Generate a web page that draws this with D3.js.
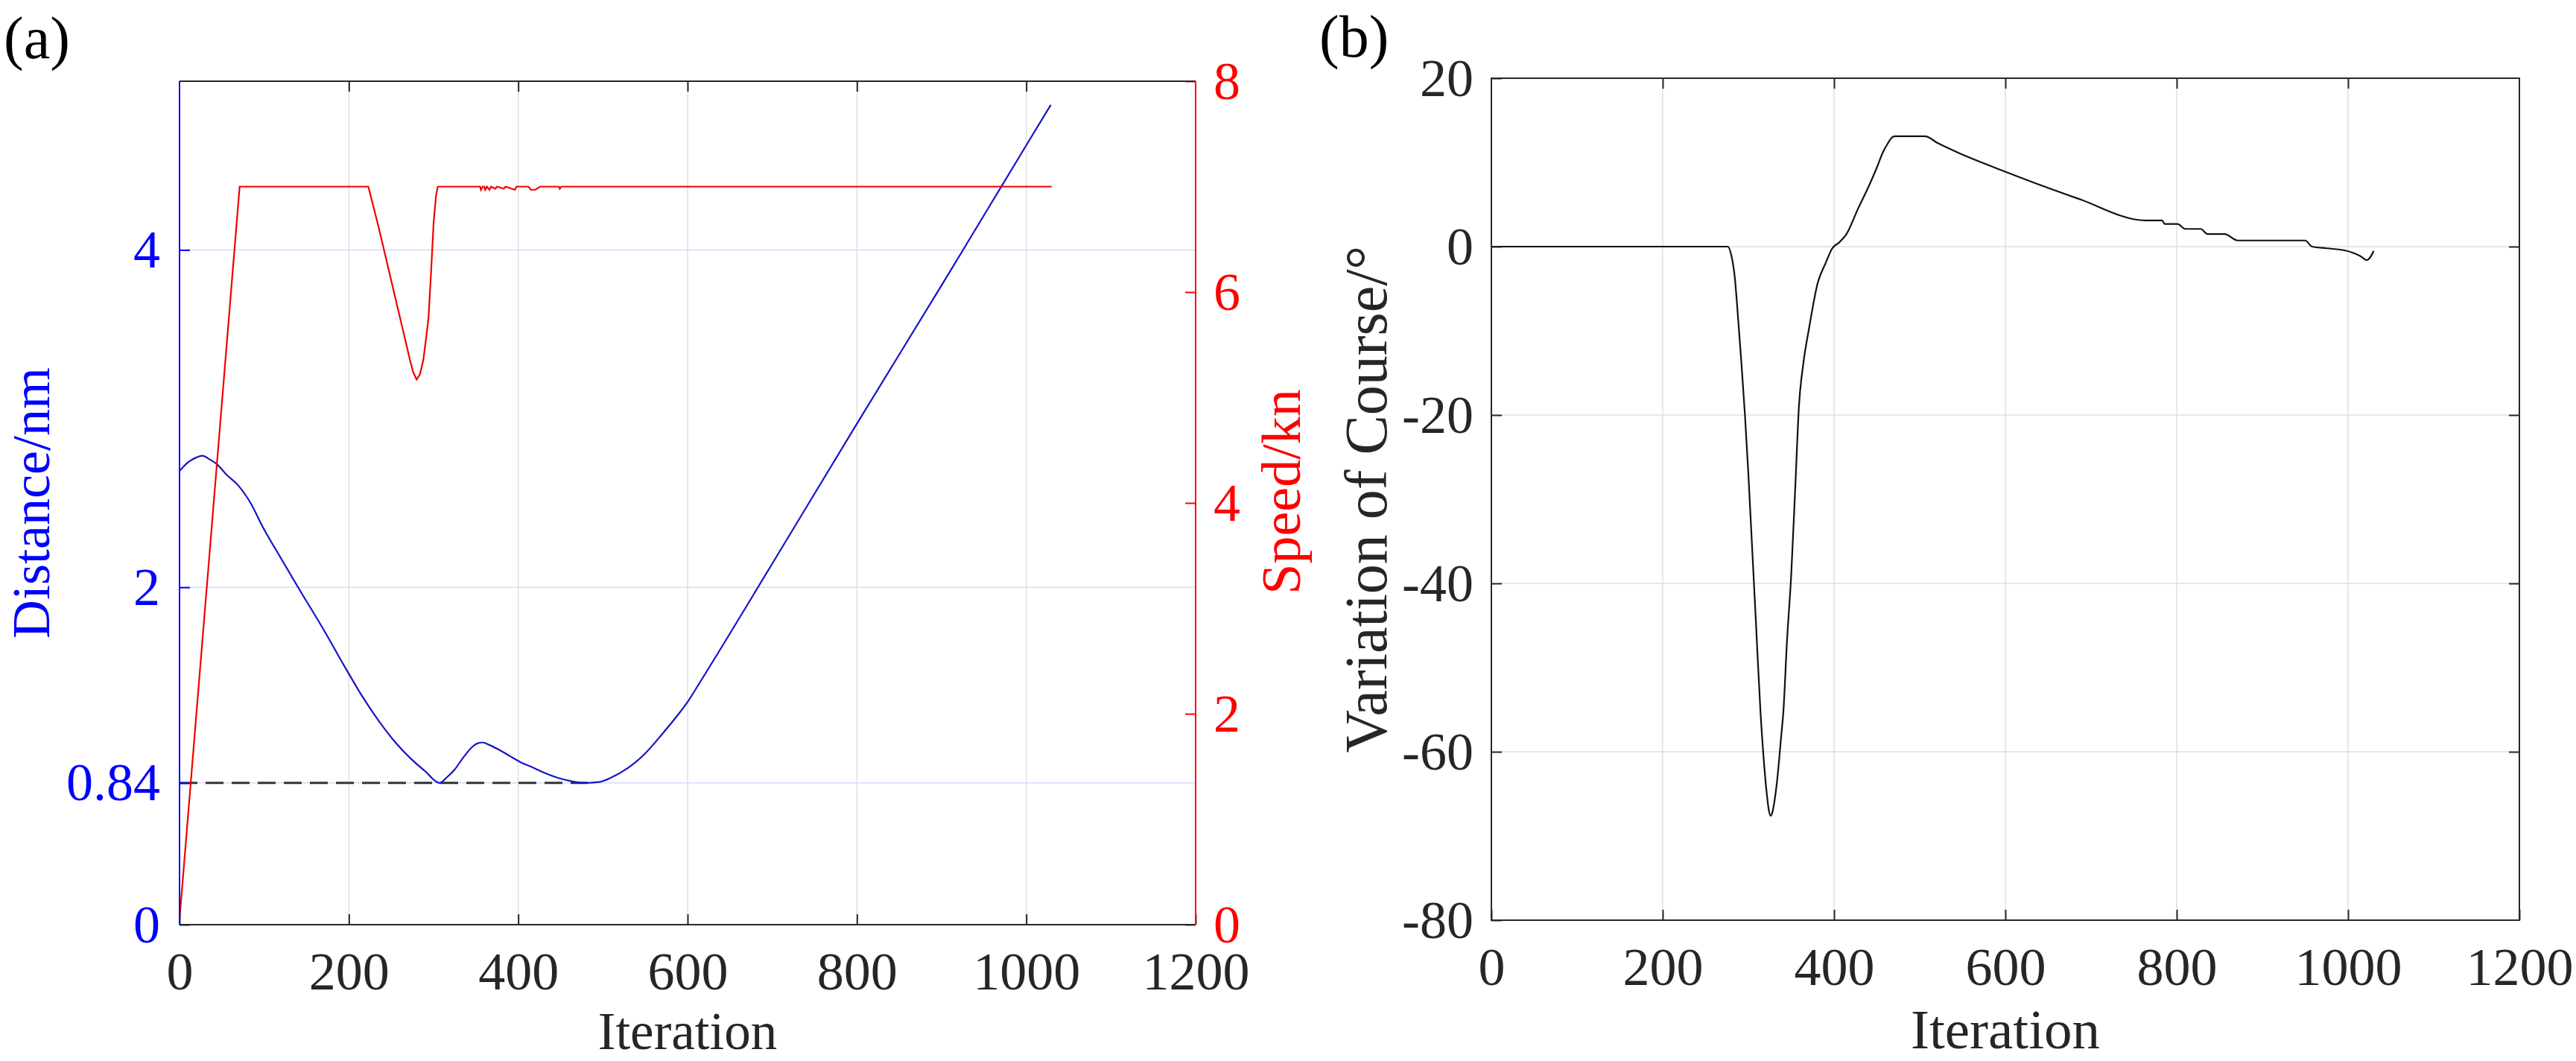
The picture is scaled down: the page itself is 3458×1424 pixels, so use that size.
<!DOCTYPE html>
<html>
<head>
<meta charset="utf-8">
<script src="https://cdn.jsdelivr.net/npm/d3@7"></script>
<style>
    html, body { margin: 0; padding: 0; background: #fff; }
</style>
</head>
<body>
<div id="chart"></div>
<script>
'use strict';

// Panel (a), left axis: distance between ships (nm)
const distIter = [0, 10, 20, 27, 35, 44, 55, 70, 85, 97, 120, 140, 170, 195, 215, 235, 255, 274, 290, 307,
    315, 325, 335, 345, 352, 358, 366, 376, 390, 404, 418, 431, 447, 463, 480, 495, 509, 530, 549, 570,
    588, 600, 615, 700, 800, 900, 1000, 1029];
const distValue = [2.69, 2.74, 2.77, 2.78, 2.76, 2.73, 2.67, 2.60, 2.49, 2.37, 2.17, 2.00, 1.75, 1.53, 1.36, 1.21, 1.08, 0.98, 0.91, 0.84,
    0.87, 0.92, 0.99, 1.05, 1.075, 1.08, 1.065, 1.04, 1.00, 0.96, 0.93, 0.90, 0.87, 0.85, 0.84, 0.845, 0.87, 0.93, 1.01, 1.13,
    1.24, 1.32, 1.44, 2.14, 2.97, 3.79, 4.62, 4.86];

// Panel (a), right axis: own ship speed (kn)
const speedIter = [0, 71, 223, 235, 255, 265, 272, 276, 280, 284, 288, 291, 294, 297, 300, 303, 305,
    355, 356, 358, 360, 361, 363, 366, 368, 373, 375, 383, 385, 396, 398, 412, 415, 420, 424, 426, 448, 449, 451, 1030];
const speedValue = [0.05, 7, 7, 6.62, 5.94, 5.6, 5.36, 5.24, 5.17, 5.22, 5.36, 5.55, 5.75, 6.18, 6.65, 6.92, 7,
    7, 6.97, 7, 7, 6.97, 7, 6.97, 7, 6.98, 7, 6.98, 7, 6.97, 7, 7, 6.97, 6.97, 6.99, 7, 7, 6.98, 7, 7];

// Panel (b): variation of course (deg)
const courseIter = [0, 276, 280, 284, 288, 292, 296, 300, 304, 309, 314, 318, 321, 324, 326, 328, 331, 334, 338, 341,
    345, 350, 355, 359, 364, 371, 381, 390, 398, 406, 414, 428, 442, 450, 457, 463, 467, 471, 506, 521,
    545, 600, 685, 764, 783, 786, 801, 810, 828, 836, 856, 871, 950, 958, 975, 996, 1005, 1014, 1022, 1030];
const courseValue = [0, 0, -1, -3.5, -8.5, -14, -20, -27, -35, -45, -55, -61, -64.5, -67, -67.6, -67.2, -65.5, -63, -58.5, -55,
    -47, -39, -28, -19, -14, -9.6, -4.3, -2, -0.2, 0.5, 1.4, 4.5, 7.5, 9.4, 11.2, 12.3, 12.9, 13.1, 13.1, 12.3,
    11.15, 8.9, 5.7, 3.1, 3.1, 2.68, 2.68, 2.1, 2.1, 1.5, 1.5, 0.73, 0.73, 0, -0.2, -0.44, -0.7, -1.1, -1.6, -0.5];

// Ticks
const iterTicks = [0, 200, 400, 600, 800, 1000, 1200];
const distTicks = [0, 0.84, 2, 4];
const speedTicks = [0, 2, 4, 6, 8];
const courseTicks = [-80, -60, -40, -20, 0, 20];

// Safe distance reference
const safeDistance = 0.84;
const safeDistanceEnd = 482;

const W = 3458, H = 1424;
const FONT = '"Liberation Serif", "Times New Roman", Tinos, "DejaVu Serif", "Noto Serif", serif';
const axisGrey = "#262626";
const blue = "#0000ff";
const red = "#ff0000";
const tickLen = 14;

const svg = d3.select("#chart").append("svg")
    .attr("width", W)
    .attr("height", H)
    .attr("font-family", FONT);

svg.append("rect").attr("width", W).attr("height", H).attr("fill", "#fff");

const fmt = d => String(d);

function styleAxis(g, color, fontSize) {
    g.attr("font-family", FONT);
    g.select(".domain").remove();
    g.selectAll(".tick line")
        .attr("stroke", color)
        .attr("stroke-width", 2);
    g.selectAll(".tick text")
        .attr("fill", color)
        .attr("font-family", FONT)
        .attr("font-size", fontSize);
}

function grid(layer, xs, ys, xTicks, yTicks, vColor, hColor) {
    const [x0, x1] = xs.range();
    const [y0, y1] = ys.range();
    layer.selectAll(".vgrid")
        .data(xTicks)
        .join("line")
        .classed("vgrid", true)
        .attr("x1", d => xs(d)).attr("x2", d => xs(d))
        .attr("y1", y0).attr("y2", y1)
        .attr("stroke", vColor)
        .attr("stroke-width", 1.5);
    layer.selectAll(".hgrid")
        .data(yTicks)
        .join("line")
        .classed("hgrid", true)
        .attr("x1", x0).attr("x2", x1)
        .attr("y1", d => ys(d)).attr("y2", d => ys(d))
        .attr("stroke", hColor)
        .attr("stroke-width", 1.5);
}

function seriesLine(xs, ys, curve) {
    return d3.line()
        .x(d => xs(d[0]))
        .y(d => ys(d[1]))
        .curve(curve);
}

function label(layer, text, x, y, size, color, rotate) {
    return layer.append("text")
        .attr("transform", rotate ? `translate(${x},${y}) rotate(-90)` : `translate(${x},${y})`)
        .attr("text-anchor", "middle")
        .attr("font-family", FONT)
        .attr("font-size", size)
        .attr("fill", color)
        .text(text);
}

// ---------- Panel (a) ----------
const xA = d3.scaleLinear().domain([0, 1200]).range([241, 1605]);
const yDist = d3.scaleLinear().domain([0, 5]).range([1241, 109]);
const ySpeed = d3.scaleLinear().domain([0, 8]).range([1241, 109]);

const panelA = svg.append("g").classed("panel-a", true);
grid(panelA.append("g"), xA, yDist, iterTicks, distTicks.slice(1), "#dfdfdf", "#d9d9ff");

const distData = distIter.map((d, i) => [d, distValue[i]]);
const speedData = speedIter.map((d, i) => [d, speedValue[i]]);

panelA.append("line")
    .attr("x1", xA(0)).attr("x2", xA(safeDistanceEnd))
    .attr("y1", yDist(safeDistance)).attr("y2", yDist(safeDistance))
    .attr("stroke", "#333")
    .attr("stroke-width", 3)
    .attr("stroke-dasharray", "24 11");

panelA.append("path")
    .datum(distData)
    .attr("d", seriesLine(xA, yDist, d3.curveMonotoneX))
    .attr("fill", "none")
    .attr("stroke", "#1414c8")
    .attr("stroke-width", 2.2);

panelA.append("path")
    .datum(speedData)
    .attr("d", seriesLine(xA, ySpeed, d3.curveLinear))
    .attr("fill", "none")
    .attr("stroke", "#f00000")
    .attr("stroke-width", 2.2);

const aBottom = panelA.append("g")
    .attr("transform", `translate(0,${yDist.range()[0]})`)
    .call(d3.axisBottom(xA).tickValues(iterTicks).tickFormat(fmt).tickSizeInner(-tickLen).tickSizeOuter(0).tickPadding(36));
styleAxis(aBottom, axisGrey, 72);

const aTop = panelA.append("g")
    .attr("transform", `translate(0,${yDist.range()[1]})`)
    .call(d3.axisTop(xA).tickValues(iterTicks.slice(1, -1)).tickFormat("").tickSizeInner(-tickLen).tickSizeOuter(0));
styleAxis(aTop, axisGrey, 72);

const aLeft = panelA.append("g")
    .attr("transform", `translate(${xA.range()[0]},0)`)
    .call(d3.axisLeft(yDist).tickValues(distTicks).tickFormat(fmt).tickSizeInner(-tickLen).tickSizeOuter(0).tickPadding(26));
styleAxis(aLeft, blue, 72);

const aRight = panelA.append("g")
    .attr("transform", `translate(${xA.range()[1]},0)`)
    .call(d3.axisRight(ySpeed).tickValues(speedTicks).tickFormat(fmt).tickSizeInner(-tickLen).tickSizeOuter(0).tickPadding(24));
styleAxis(aRight, red, 72);

// box
const [ax0, ax1] = xA.range();
const [ay0, ay1] = yDist.range();
panelA.append("line").attr("x1", ax0).attr("x2", ax1).attr("y1", ay0).attr("y2", ay0).attr("stroke", axisGrey).attr("stroke-width", 2);
panelA.append("line").attr("x1", ax0).attr("x2", ax1).attr("y1", ay1).attr("y2", ay1).attr("stroke", axisGrey).attr("stroke-width", 2);
panelA.append("line").attr("x1", ax0).attr("x2", ax0).attr("y1", ay0).attr("y2", ay1).attr("stroke", blue).attr("stroke-width", 2);
panelA.append("line").attr("x1", ax1).attr("x2", ax1).attr("y1", ay0).attr("y2", ay1).attr("stroke", red).attr("stroke-width", 2);

panelA.append("text")
    .attr("x", 5).attr("y", 78)
    .attr("font-family", FONT)
    .attr("font-size", 80)
    .attr("fill", "#000")
    .text("(a)");

label(panelA, "Iteration", (ax0 + ax1) / 2, 1408, 71, axisGrey, false);
label(panelA, "Distance/nm", 66, (ay0 + ay1) / 2, 72, blue, true);
label(panelA, "Speed/kn", 1745, 660, 74, red, true);

// ---------- Panel (b) ----------
const xB = d3.scaleLinear().domain([0, 1200]).range([2002, 3382]);
const yCourse = d3.scaleLinear().domain([-80, 20]).range([1235, 105]);

const panelB = svg.append("g").classed("panel-b", true);
grid(panelB.append("g"), xB, yCourse, iterTicks.slice(1, -1), courseTicks.slice(1, -1), "#dfdfdf", "#dfdfdf");

const courseData = courseIter.map((d, i) => [d, courseValue[i]]);

panelB.append("path")
    .datum(courseData)
    .attr("d", seriesLine(xB, yCourse, d3.curveMonotoneX))
    .attr("fill", "none")
    .attr("stroke", "#111")
    .attr("stroke-width", 2.2);

const bBottom = panelB.append("g")
    .attr("transform", `translate(0,${yCourse.range()[0]})`)
    .call(d3.axisBottom(xB).tickValues(iterTicks).tickFormat(fmt).tickSizeInner(-tickLen).tickSizeOuter(0).tickPadding(36));
styleAxis(bBottom, axisGrey, 72);

const bTop = panelB.append("g")
    .attr("transform", `translate(0,${yCourse.range()[1]})`)
    .call(d3.axisTop(xB).tickValues(iterTicks.slice(1, -1)).tickFormat("").tickSizeInner(-tickLen).tickSizeOuter(0));
styleAxis(bTop, axisGrey, 72);

const bLeft = panelB.append("g")
    .attr("transform", `translate(${xB.range()[0]},0)`)
    .call(d3.axisLeft(yCourse).tickValues(courseTicks).tickFormat(fmt).tickSizeInner(-tickLen).tickSizeOuter(0).tickPadding(24));
styleAxis(bLeft, axisGrey, 72);

const bRight = panelB.append("g")
    .attr("transform", `translate(${xB.range()[1]},0)`)
    .call(d3.axisRight(yCourse).tickValues(courseTicks.slice(1, -1)).tickFormat("").tickSizeInner(-tickLen).tickSizeOuter(0));
styleAxis(bRight, axisGrey, 72);

const [bx0, bx1] = xB.range();
const [by0, by1] = yCourse.range();
panelB.append("rect")
    .attr("x", bx0).attr("y", by1)
    .attr("width", bx1 - bx0).attr("height", by0 - by1)
    .attr("fill", "none")
    .attr("stroke", axisGrey)
    .attr("stroke-width", 2);

panelB.append("text")
    .attr("x", 1771).attr("y", 76)
    .attr("font-family", FONT)
    .attr("font-size", 80)
    .attr("fill", "#000")
    .text("(b)");

label(panelB, "Iteration", (bx0 + bx1) / 2, 1407, 75, axisGrey, false);
label(panelB, "Variation of Course/°", 1861, (by0 + by1) / 2, 80, axisGrey, true);
</script>
</body>
</html>
